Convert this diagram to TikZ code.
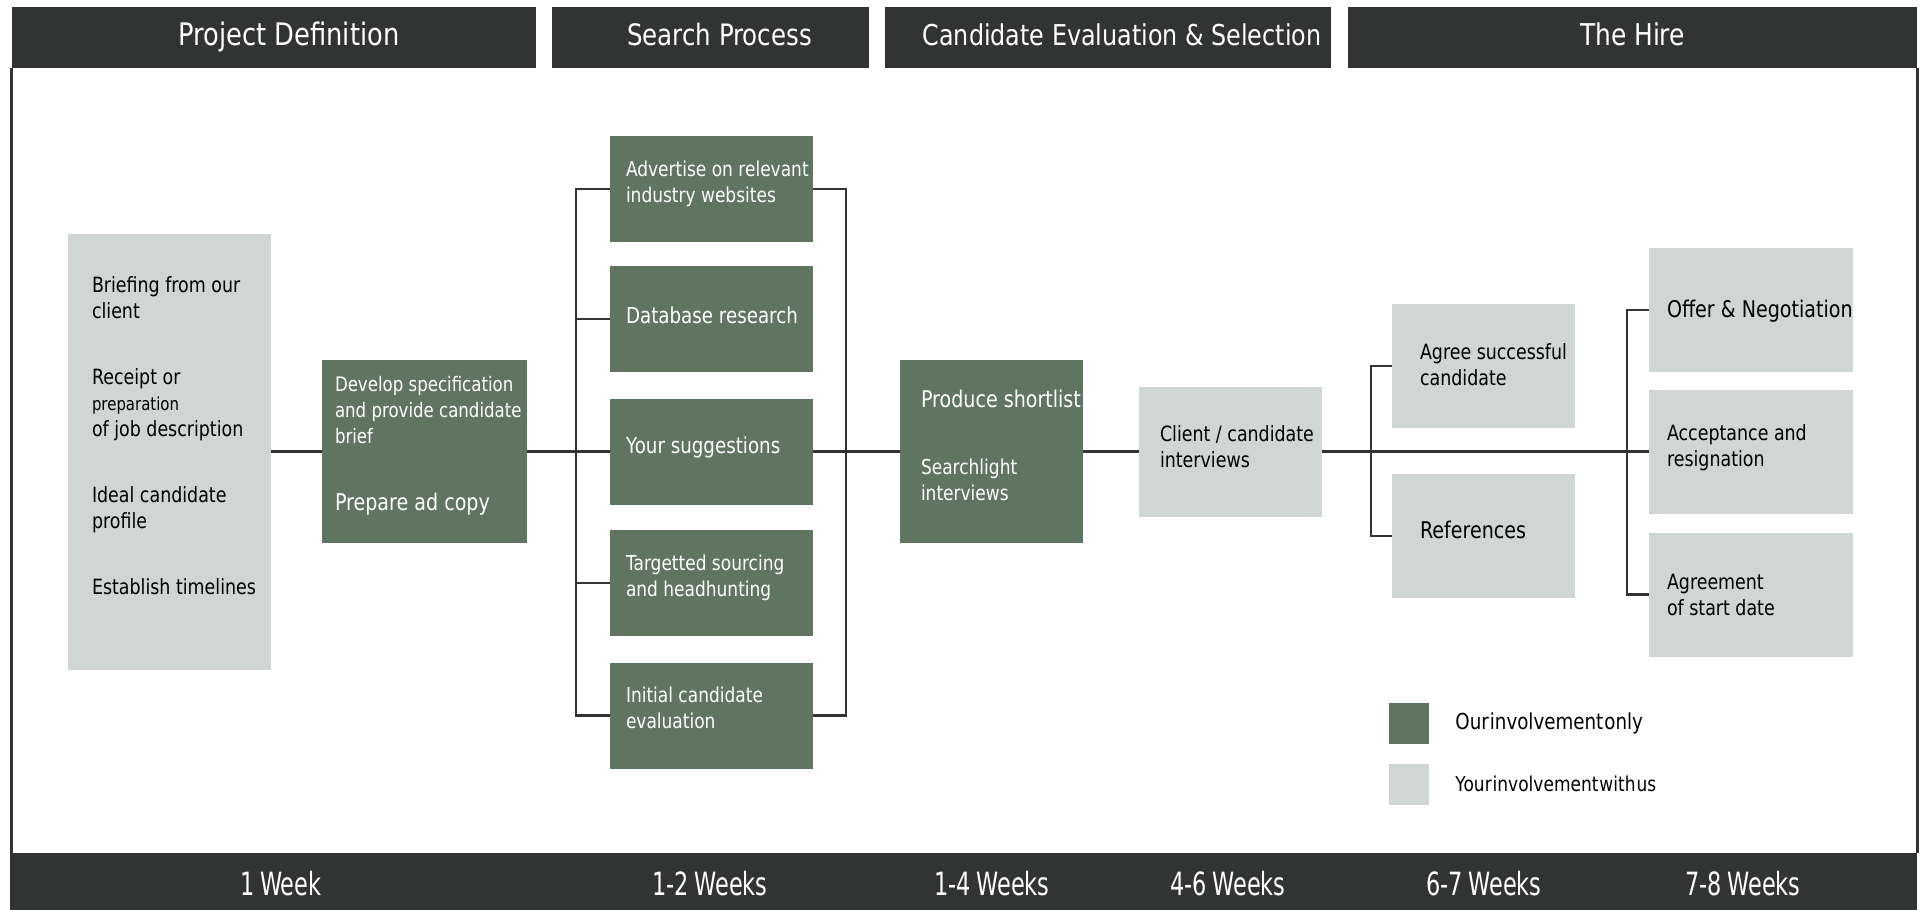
\documentclass[tikz,border=0pt]{standalone}
\usepackage{fontspec}
\setmainfont{DejaVu Sans}[FakeStretch=0.83]
\newfontfamily\weekfont{DejaVu Sans}[FakeStretch=0.7]
\usetikzlibrary{positioning}

\definecolor{dkgreen}{HTML}{5F7560}
\definecolor{ltgrey}{HTML}{D0D6D3}
\definecolor{barcol}{HTML}{323433}
\definecolor{linecol}{HTML}{333333}

\newcommand{\fs}[1]{\fontsize{#1}{26}\selectfont}

\tikzset{
  bar/.style={fill=barcol, inner sep=0pt, text=white},
  head/.style={text=white, anchor=base, inner sep=0pt},
  wk/.style={text=white, font=\weekfont\fontsize{32}{36}\selectfont},
  ours/.style={fill=dkgreen, inner sep=0pt},
  yours/.style={fill=ltgrey, inner sep=0pt},
  intxt/.style={anchor=west, align=left, inner sep=0pt, font=\fs{21}},
  wht/.style={intxt, text=white, font=\fs{20}},
  link/.style={draw=linecol, line width=2.5pt},
  frame/.style={draw=linecol, line width=3pt},
}

\begin{document}
\begin{tikzpicture}[x=1pt, y=-1pt]
\useasboundingbox (0,0) rectangle (1925,910);

% stage headings
\node[bar, minimum width=524pt, minimum height=61pt] (hdef) at (274,37.5) {};
\node[bar, minimum width=317pt, minimum height=61pt] (hsearch) at (710.5,37.5) {};
\node[bar, minimum width=446pt, minimum height=61pt] (heval) at (1108,37.5) {};
\node[bar, minimum width=569pt, minimum height=61pt] (hhire) at (1632.5,37.5) {};
\node[head, font=\fs{31}] (tdef) at (289,45) {Project Definition};
\node[head, font=\fs{29.5}] (tsearch) at (719.5,45) {Search Process};
\node[head, font=\fs{28.7}] (teval) at (1122,45) {Candidate Evaluation \& Selection};
\node[head, font=\fs{30}] (thire) at (1632.5,45) {The Hire};

% timescale
\node[bar, minimum width=1907pt, minimum height=57pt] (weekbar) at (963.5,881.5) {};
\node[wk] (w1) at (281,884) {1\,Week};
\node[wk] (w2) at (710,884) {1-2\,Weeks};
\node[wk] (w3) at (992,884) {1-4\,Weeks};
\node[wk] (w4) at (1228,884) {4-6\,Weeks};
\node[wk] (w5) at (1484,884) {6-7\,Weeks};
\node[wk] (w6) at (1743,884) {7-8\,Weeks};

% outline
\draw[frame] (hdef.south west) -- (hdef.south west |- weekbar.north);
\draw[frame] (hhire.south east) -- (hhire.south east |- weekbar.north);

% project definition
\node[yours, minimum width=203.5pt, minimum height=436pt,
  label={[intxt, xshift=24.5pt, yshift=16pt]west:{Briefing from our\\client\\[40pt]Receipt or\\\fs{18}preparation\\of job description\\[40pt]Ideal candidate\\profile\\[40pt]Establish timelines}}] (brief) at (169.25,451.5) {};
\node[ours, minimum width=205pt, minimum height=183pt,
  label={[wht, xshift=13pt, yshift=6pt]west:{Develop specification\\and provide candidate\\brief\\[41pt]\fs{23}Prepare ad copy}}] (spec) at (424.5,451.5) {};

% search process
\node[ours, minimum width=203pt, minimum height=106pt,
  label={[wht, xshift=16pt, yshift=5pt, font=\fs{20.5}]west:{Advertise on relevant\\industry websites}}] (adv) at (711.5,189) {};
\node[ours, minimum width=203pt, minimum height=106pt,
  label={[wht, xshift=16pt, yshift=4pt, font=\fs{22}]west:{Database research}}] (db) at (711.5,319) {};
\node[ours, minimum width=203pt, minimum height=106pt,
  label={[wht, xshift=16pt, yshift=4pt, font=\fs{22}]west:{Your suggestions}}] (sugg) at (711.5,451.5) {};
\node[ours, minimum width=203pt, minimum height=106pt,
  label={[wht, xshift=16pt, yshift=5pt, font=\fs{20.5}]west:{Targetted sourcing\\and headhunting}}] (targ) at (711.5,583) {};
\node[ours, minimum width=203pt, minimum height=106pt,
  label={[wht, xshift=16pt, yshift=8pt, font=\fs{20.5}]west:{Initial candidate\\evaluation}}] (init) at (711.5,715.5) {};

% evaluation
\node[ours, minimum width=183pt, minimum height=183pt,
  label={[wht, xshift=21pt, yshift=6pt, font=\fs{20.5}]west:{\fs{23}Produce shortlist\\[41pt]Searchlight\\interviews}}] (short) at (991.5,451.5) {};
\node[yours, minimum width=183pt, minimum height=130pt,
  label={[intxt, xshift=21pt, yshift=5pt]west:{Client / candidate\\interviews}}] (interv) at (1230.5,451.5) {};

% the hire
\node[yours, minimum width=183pt, minimum height=124pt,
  label={[intxt, xshift=28pt, yshift=1pt]west:{Agree successful\\candidate}}] (agree) at (1483.5,366) {};
\node[yours, minimum width=183pt, minimum height=124pt,
  label={[intxt, xshift=28pt, yshift=6pt, font=\fs{23}]west:{References}}] (refs) at (1483.5,536) {};
\node[yours, minimum width=204pt, minimum height=124pt,
  label={[intxt, xshift=18pt, yshift=-1pt, font=\fs{23}]west:{Offer \& Negotiation}}] (offer) at (1751,310) {};
\node[yours, minimum width=204pt, minimum height=124pt,
  label={[intxt, xshift=18pt, yshift=3.5pt]west:{Acceptance and\\resignation}}] (accept) at (1751,451.5) {};
\node[yours, minimum width=204pt, minimum height=124pt,
  label={[intxt, xshift=18pt]west:{Agreement\\of start date}}] (startd) at (1751,594.5) {};

% connectors
\draw[link] (brief) -- (spec);
\draw[link] (spec) -- (sugg);
\draw[link] (sugg) -- (short);
\draw[link] (short) -- (interv);
\draw[link] (interv) -- (accept);
\draw[link] (adv.west) -- ++(-34,0) |- (init.west);
\foreach \b in {db,targ}
  \draw[link] (\b.west) -- ++(-34,0);
\draw[link] (adv.east) -- ++(33,0) |- (init.east);
\draw[link] (agree.west) -- ++(-21,0) |- (refs.west);
\draw[link] (offer.west) -- ++(-22,0) |- (startd.west);

% key
\node[ours, minimum width=40pt, minimum height=41pt] (keyours) at (1409,723.5) {};
\node[yours, minimum width=40pt, minimum height=41pt] (keyyours) at (1409,784) {};
\node[right=26pt of keyours, inner sep=0pt, font=\fs{22}] (keyourstxt) {\spaceskip=1pt Our involvement only};
\node[right=26pt of keyyours, inner sep=0pt, font=\fs{20.5}] (keyyourstxt) {\spaceskip=1pt Your involvement with us};
\end{tikzpicture}
\end{document}
